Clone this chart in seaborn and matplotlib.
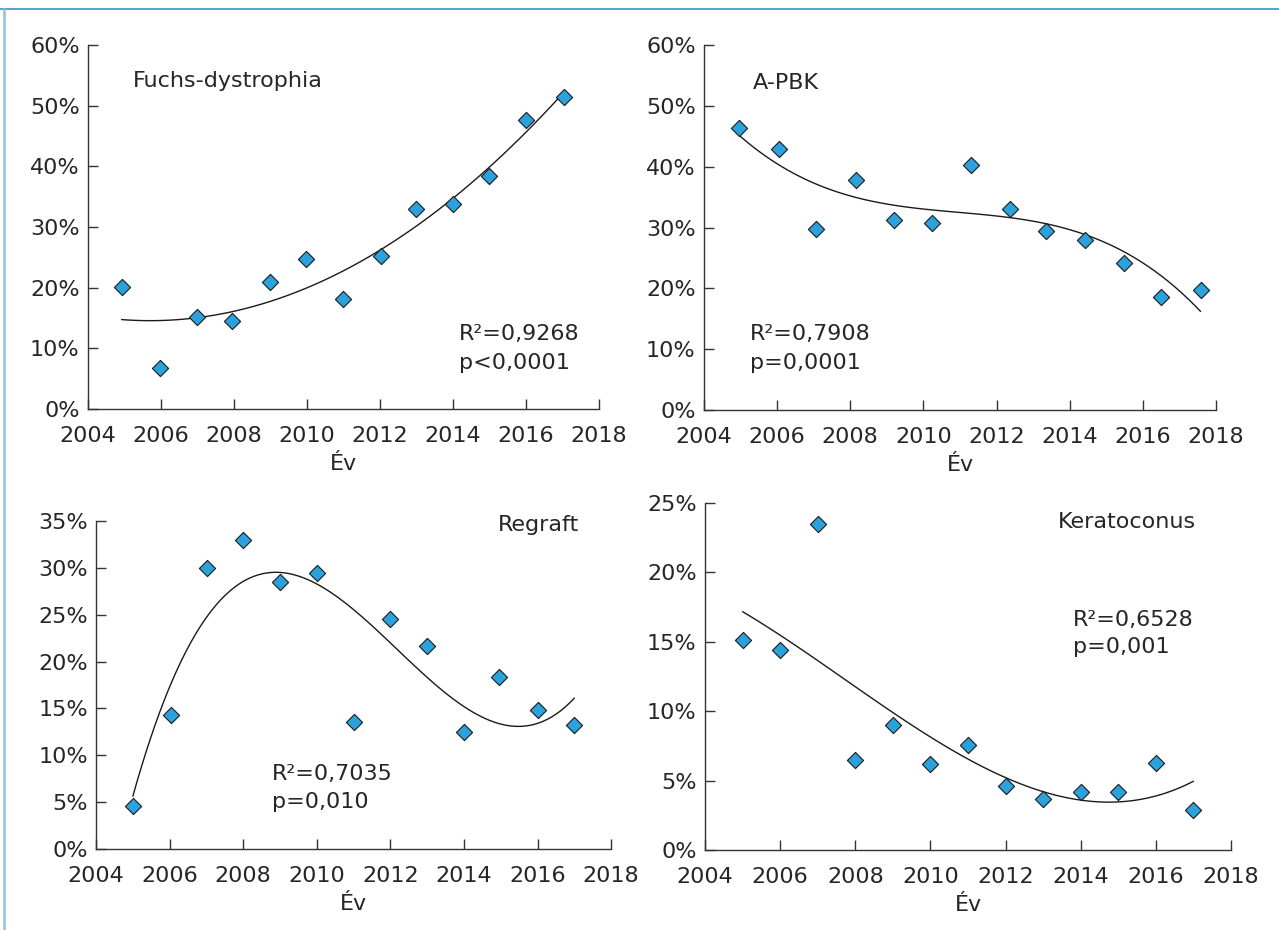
import matplotlib
matplotlib.use("Agg")
import matplotlib.pyplot as plt
from matplotlib.lines import Line2D
from matplotlib.ticker import FuncFormatter, MultipleLocator
import numpy as np
import pandas as pd
import seaborn as sns

# Share of keratoplasty indications per year (%)
fuchs_years = [2004.92, 2005.96, 2006.99, 2007.95, 2008.98, 2009.96, 2011.0,
               2012.03, 2013.0, 2014.0, 2015.0, 2016.0, 2017.05]
fuchs_pct = [20.1, 6.8, 15.1, 14.5, 20.9, 24.8, 18.1, 25.3, 33.0, 33.8, 38.4, 47.6, 51.4]

apbk_years = [2004.97, 2006.04, 2007.06, 2008.15, 2009.19, 2010.23, 2011.30,
              2012.36, 2013.36, 2014.42, 2015.48, 2016.49, 2017.58]
apbk_pct = [46.4, 42.9, 29.7, 37.8, 31.3, 30.8, 40.2, 33.1, 29.4, 27.9, 24.1, 18.6, 19.7]

regraft_years = [2005.0, 2006.04, 2007.01, 2008.0, 2009.0, 2010.0, 2011.0,
                 2012.0, 2013.0, 2014.0, 2014.95, 2016.0, 2017.0]
regraft_pct = [4.6, 14.3, 30.0, 33.0, 28.5, 29.4, 13.5, 24.5, 21.7, 12.5, 18.35, 14.8, 13.2]

kerato_years = [2005.0, 2006.0, 2007.0, 2008.0, 2009.0, 2010.0, 2011.0,
                2012.0, 2013.0, 2014.0, 2015.0, 2016.0, 2017.0]
kerato_pct = [15.1, 14.4, 23.5, 6.5, 9.0, 6.2, 7.6, 4.6, 3.65, 4.15, 4.2, 6.25, 2.85]

panel_titles = ["Fuchs-dystrophia", "A-PBK", "Regraft", "Keratoconus"]
stat_labels = [("R\u00b2=0,9268", "p<0,0001"),
               ("R\u00b2=0,7908", "p=0,0001"),
               ("R\u00b2=0,7035", "p=0,010"),
               ("R\u00b2=0,6528", "p=0,001")]
fit_orders = [2, 3, 3, 3]
y_max = [60, 60, 35, 25]
y_step = [10, 10, 5, 5]
x_ticks = [2004, 2006, 2008, 2010, 2012, 2014, 2016, 2018]

sns.set_theme(style="white")
plt.rcParams["font.family"] = ["DejaVu Sans"]
text_color = "#262626"
marker_fill = "#2ba2dc"
fs = 16

fig = plt.figure(figsize=(12.79, 9.30), dpi=100)
axes_rects = [
    (0.0688, 0.5602, 0.3995, 0.3914),
    (0.5504, 0.5591, 0.4003, 0.3925),
    (0.0751, 0.0871, 0.4027, 0.3527),
    (0.5512, 0.0860, 0.4113, 0.3731),
]

series = [(fuchs_years, fuchs_pct), (apbk_years, apbk_pct),
          (regraft_years, regraft_pct), (kerato_years, kerato_pct)]

# title / statistics placement in data coordinates
title_pos = [(2005.23, 54.1, "left"), (2005.34, 53.8, "left"),
             (2017.13, 34.6, "right"), (2017.07, 23.6, "right")]
stat_pos = [(2014.16, 12.4, 7.6), (2005.26, 12.5, 7.7),
            (2008.79, 8.0, 5.0), (2013.79, 16.6, 14.65)]

for i, rect in enumerate(axes_rects):
    ax = fig.add_axes(rect)
    yrs, pct = series[i]
    df = pd.DataFrame({"year": yrs, "pct": pct})
    sns.regplot(data=df, x="year", y="pct", order=fit_orders[i], ci=None,
                scatter=False, truncate=True, ax=ax,
                line_kws={"color": "#1a1a1a", "linewidth": 1.0})
    sns.scatterplot(data=df, x="year", y="pct", marker="D", s=68,
                    color=marker_fill, edgecolor="#1a1a1a", linewidth=0.8,
                    ax=ax, zorder=3)

    ax.set_xlim(2004, 2018)
    ax.set_ylim(0, y_max[i])
    ax.set_xticks(x_ticks)
    ax.yaxis.set_major_locator(MultipleLocator(y_step[i]))
    ax.yaxis.set_major_formatter(FuncFormatter(lambda v, _: f"{v:.0f}%"))
    for side in ("top", "right"):
        ax.spines[side].set_visible(False)
    for side in ("left", "bottom"):
        ax.spines[side].set_color("#333333")
        ax.spines[side].set_linewidth(1.0)
    ax.tick_params(axis="both", which="major", direction="in", length=7.5,
                   width=1.0, color="#333333", labelsize=fs,
                   labelcolor=text_color)
    ax.tick_params(axis="x", pad=12, bottom=True)
    ax.tick_params(axis="y", pad=6, left=True)
    ax.set_ylabel("")
    ax.set_xlabel("\u00c9v", fontsize=fs, color=text_color, labelpad=6)
    ax.grid(False)

    tx, ty, ha = title_pos[i]
    ax.text(tx, ty, panel_titles[i], ha=ha, va="center", fontsize=fs,
            color=text_color)
    sx, sy1, sy2 = stat_pos[i]
    ax.text(sx, sy1, stat_labels[i][0], ha="left", va="center", fontsize=fs,
            color=text_color)
    ax.text(sx, sy2, stat_labels[i][1], ha="left", va="center", fontsize=fs,
            color=text_color)

# thin frame lines along the top and left edges
fig.add_artist(Line2D([0.0, 1.0], [1 - 9.5 / 930, 1 - 9.5 / 930],
                      transform=fig.transFigure, color="#2f98c0", linewidth=1.2))
fig.add_artist(Line2D([3.5 / 1279, 3.5 / 1279], [0.0, 1 - 9.5 / 930],
                      transform=fig.transFigure, color="#86c6de", linewidth=1.8))

fig.savefig("out.png", dpi=100)
